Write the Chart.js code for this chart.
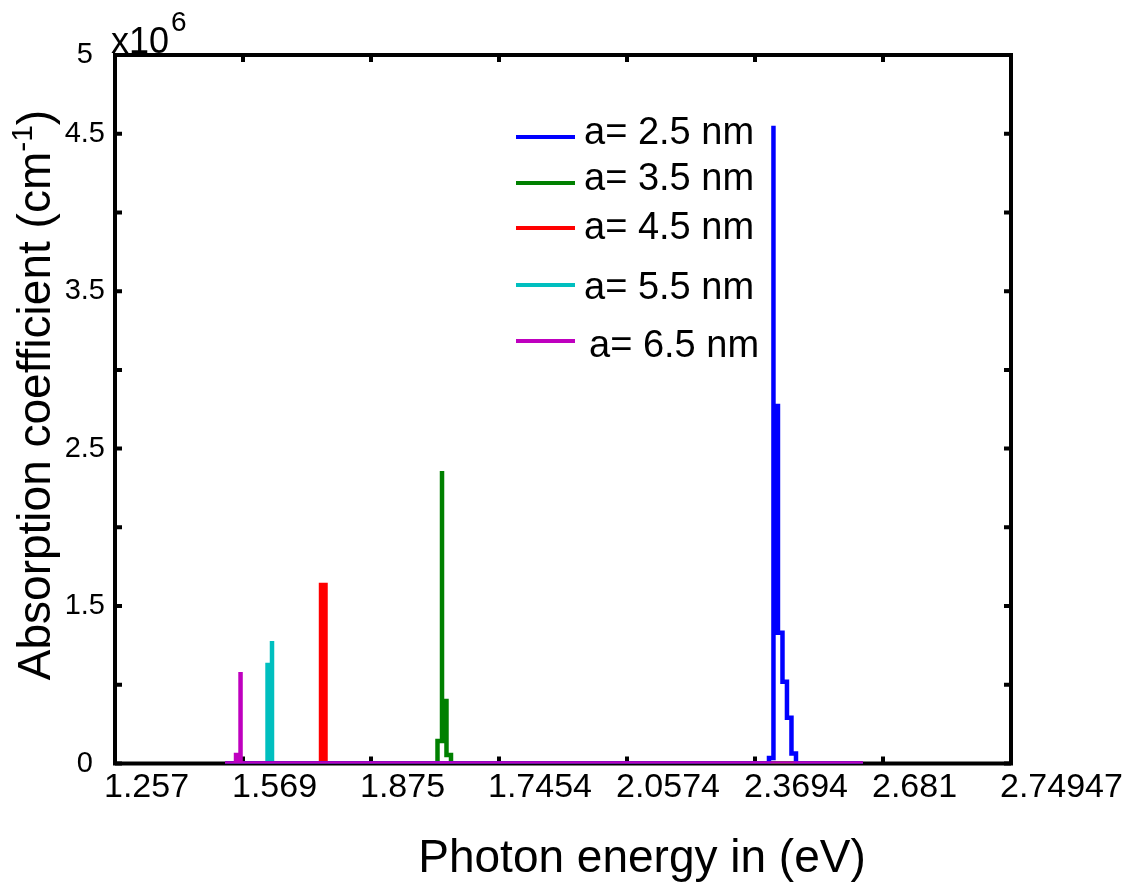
<!DOCTYPE html>
<html>
<head>
<meta charset="utf-8">
<title>Absorption coefficient</title>
<script src="https://cdn.jsdelivr.net/npm/chart.js@4.4.1/dist/chart.umd.min.js"></script>
<style>
  html, body { margin: 0; padding: 0; background: #fff; }
  #wrap { width: 1130px; height: 885px; }
</style>
</head>
<body>
<div id="wrap"><canvas id="absChart" width="1130" height="885"></canvas></div>
<script>
// Absorption coefficient (x10^6 cm^-1) against photon energy for five dot sizes.
// Each series is a staircase: at energy E[i] the value steps to A[i].
const sizeLabels = ['a= 2.5 nm', 'a= 3.5 nm', 'a= 4.5 nm', 'a= 5.5 nm', 'a= 6.5 nm'];
const lineColors = ['#0000ff', '#008000', '#ff0000', '#00bfbf', '#bf00bf'];

const energy25 = [1.0776, 2.4035, 2.4144, 2.4144, 2.4254, 2.4364, 2.4473, 2.4583, 2.4693, 2.6326];
const alpha25  = [0.5, 0.535, 4.55, 2.77, 1.33, 1.02, 0.79, 0.564, 0.5, 0.5];

const energy35 = [1.0776, 1.5955, 1.6065, 1.6065, 1.6174, 1.6284, 2.6326];
const alpha35  = [0.5, 0.643, 2.358, 0.897, 0.554, 0.5, 0.5];

const energy45 = [1.0776, 1.3116, 1.3225, 1.3225, 2.6326];
const alpha45  = [0.5, 1.634, 1.609, 0.5, 0.5];

const energy55 = [1.0776, 1.1812, 1.1921, 1.1921, 2.6326];
const alpha55  = [0.5, 1.126, 1.278, 0.5, 0.5];

const energy65 = [1.0776, 1.1044, 1.1154, 1.1154, 2.6326];
const alpha65  = [0.5, 0.554, 1.081, 0.5, 0.5];

// axis ticks as printed on the figure
const xTickLabels = ['1.257', '1.569', '1.875', '1.7454', '2.0574', '2.3694', '2.681', '2.74947'];
const xMin = 0.8094, xStep = 0.312;
const yTickValues = [0.5, 1.5, 2.5, 3.5, 4.5, 5];
const yTickLabels = ['0', '1.5', '2.5', '3.5', '4.5', '5'];

const FONT = '"Liberation Sans", Arial, sans-serif';

function toPoints(xs, ys) {
    return xs.map((x, i) => ({ x: x, y: ys[i] }));
}

const seriesData = [
    toPoints(energy25, alpha25),
    toPoints(energy35, alpha35),
    toPoints(energy45, alpha45),
    toPoints(energy55, alpha55),
    toPoints(energy65, alpha65)
];

// box around the plot plus inward tick marks on all four sides
const frameAndTicks = {
    id: 'frameAndTicks',
    beforeDatasetsDraw(chart) {
        const { ctx, chartArea: a, scales: { x, y } } = chart;
        ctx.save();
        ctx.strokeStyle = '#000';
        ctx.lineWidth = 4;
        ctx.strokeRect(a.left, a.top, a.right - a.left, a.bottom - a.top);
        ctx.beginPath();
        x.ticks.forEach(t => {
            const px = x.getPixelForValue(t.value);
            ctx.moveTo(px, a.bottom); ctx.lineTo(px, a.bottom - 7);
            ctx.moveTo(px, a.top); ctx.lineTo(px, a.top + 7);
        });
        y.ticks.forEach(t => {
            const py = y.getPixelForValue(t.value);
            ctx.moveTo(a.left, py); ctx.lineTo(a.left + 7, py);
            ctx.moveTo(a.right, py); ctx.lineTo(a.right - 7, py);
        });
        ctx.stroke();
        ctx.restore();
    }
};

// legend inside the plot, long line samples
const insideLegend = {
    id: 'insideLegend',
    afterDatasetsDraw(chart, args, opts) {
        const ctx = chart.ctx;
        ctx.save();
        ctx.font = '38px ' + FONT;
        ctx.fillStyle = '#000';
        ctx.textAlign = 'left';
        ctx.textBaseline = 'alphabetic';
        chart.data.datasets.forEach((ds, i) => {
            const ly = opts.lineY[i];
            ctx.strokeStyle = ds.borderColor;
            ctx.lineWidth = 4;
            ctx.beginPath();
            ctx.moveTo(opts.lineX0, ly);
            ctx.lineTo(opts.lineX1, ly);
            ctx.stroke();
            ctx.fillText(ds.label, opts.textX[i], opts.textY[i]);
        });
        ctx.restore();
    }
};

// axis titles and the exponent marker
const axisTitles = {
    id: 'axisTitles',
    afterDraw(chart) {
        const ctx = chart.ctx;
        ctx.save();
        ctx.fillStyle = '#000';
        ctx.textBaseline = 'alphabetic';

        ctx.font = '46px ' + FONT;
        ctx.textAlign = 'center';
        ctx.fillText('Photon energy in (eV)', 642, 872);

        // vertical title with superscript -1
        ctx.translate(50, 395);
        ctx.rotate(-Math.PI / 2);
        const main = 'Absorption coefficient (cm';
        const sup = '-1';
        const close = ')';
        ctx.font = '46px ' + FONT;
        const wMain = ctx.measureText(main).width;
        const wClose = ctx.measureText(close).width;
        ctx.font = '30px ' + FONT;
        const wSup = ctx.measureText(sup).width;
        let x0 = -(wMain + wSup + wClose) / 2;
        ctx.textAlign = 'left';
        ctx.font = '46px ' + FONT;
        ctx.fillText(main, x0, 0);
        ctx.font = '30px ' + FONT;
        ctx.fillText(sup, x0 + wMain, -18);
        ctx.font = '46px ' + FONT;
        ctx.fillText(close, x0 + wMain + wSup, 0);
        ctx.setTransform(1, 0, 0, 1, 0, 0);

        ctx.textAlign = 'left';
        ctx.font = '36px ' + FONT;
        ctx.fillText('x10', 111, 53);
        ctx.font = '28px ' + FONT;
        ctx.fillText('6', 171, 31);
        ctx.restore();
    }
};

const chart = new Chart(document.getElementById('absChart').getContext('2d'), {
    type: 'line',
    data: {
        datasets: seriesData.map((pts, i) => ({
            label: sizeLabels[i],
            data: pts,
            borderColor: lineColors[i],
            backgroundColor: lineColors[i],
            borderWidth: 4.5,
            pointRadius: 0,
            stepped: 'before',
            fill: false,
            // the a= 6.5 nm curve is painted last so its flat part sits on top
            order: i === 4 ? 0 : 1
        }))
    },
    options: {
        responsive: false,
        animation: false,
        layout: { padding: { left: 0, top: 55, right: 119, bottom: 0 } },
        plugins: {
            legend: { display: false },
            tooltip: { enabled: false },
            insideLegend: {
                lineX0: 516, lineX1: 575,
                lineY: [137, 183, 228, 285, 341],
                textX: [584, 584, 584, 584, 589],
                textY: [144, 190, 239, 299, 357]
            }
        },
        scales: {
            x: {
                type: 'linear',
                min: xMin,
                max: xMin + xStep * (xTickLabels.length - 1),
                grid: { display: false, drawTicks: false },
                border: { display: false },
                afterBuildTicks: scale => {
                    scale.ticks = xTickLabels.map((_, i) => ({ value: xMin + i * xStep }));
                },
                afterFit: scale => {
                    scale.height = 121.5;
                    scale.paddingLeft = 0;
                    scale.paddingRight = 0;
                },
                ticks: {
                    autoSkip: false,
                    maxRotation: 0,
                    align: 'start',
                    labelOffset: -11,
                    padding: 4,
                    color: '#000',
                    font: { family: FONT, size: 34 },
                    callback: (value, index) => xTickLabels[index]
                }
            },
            y: {
                type: 'linear',
                min: 0.5,
                max: 5,
                grid: { display: false, drawTicks: false },
                border: { display: false },
                afterFit: scale => {
                    scale.width = 115;
                    scale.paddingTop = 0;
                    scale.paddingBottom = 0;
                },
                ticks: {
                    stepSize: 0.5,
                    autoSkip: false,
                    crossAlign: 'center',
                    padding: 10,
                    color: '#000',
                    font: { family: FONT, size: 29 },
                    callback: value => {
                        const k = yTickValues.findIndex(v => Math.abs(v - value) < 1e-6);
                        return k >= 0 ? yTickLabels[k] : '';
                    }
                }
            }
        }
    },
    plugins: [frameAndTicks, insideLegend, axisTitles]
});
</script>
</body>
</html>
